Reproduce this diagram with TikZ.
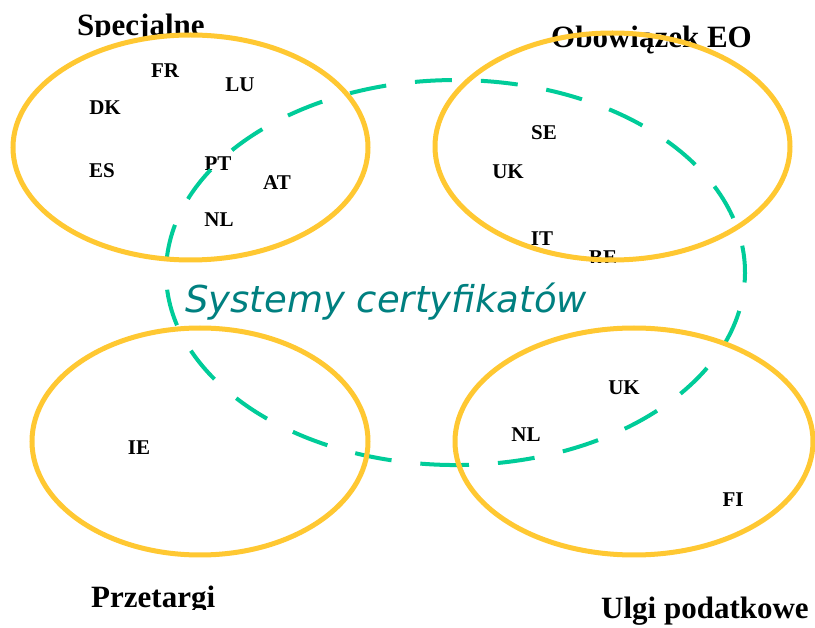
\documentclass[tikz,border=0pt]{standalone}
\usepackage{fontspec}
\setmainfont{Liberation Serif}
\newfontfamily\dejavu{DejaVu Sans}
\definecolor{ovalyellow}{RGB}{255,200,50}
\definecolor{dashgreen}{RGB}{0,204,153}
\definecolor{tealtext}{RGB}{0,128,128}
\begin{document}
\begin{tikzpicture}[x=1pt,y=-1pt,
  oval/.style={draw=ovalyellow,line width=5pt},
  certoval/.style={draw=dashgreen,line width=4pt,dash pattern=on 37pt off 29pt},
  country/.style={inner sep=0pt,font=\fontsize{21}{21}\selectfont\bfseries},
  title/.style={inner sep=0pt,anchor=base west,font=\fontsize{31}{31}\selectfont\bfseries}]
\useasboundingbox (0,0) rectangle (815,628);
\fill[white] (0,0) rectangle (815,628);
% titles
\begin{scope}
  \clip (0,0) rectangle (815,37);
  \node[title] (tspec) at (77,36) {Specjalne};
\end{scope}
\node[title] (tobow) at (551,48) {Obowiązek EO};
\begin{scope}
  \clip (0,560) rectangle (400,609);
  \node[title] (tprze) at (91,608) {Przetargi};
\end{scope}
\node[title] (tulgi) at (601,618) {Ulgi podatkowe};
% countries
\node[country] (fr) at (165,71) {FR};
\node[country] (lu) at (240,85) {LU};
\node[country] (dk) at (105,108) {DK};
\node[country] (es) at (102,171) {ES};
\node[country] (pt) at (218,164) {PT};
\node[country] (at) at (277,183) {AT};
\node[country] (nl1) at (219,220) {NL};
\node[country] (se) at (544,133) {SE};
\node[country] (uk1) at (508,172) {UK};
\node[country] (it) at (542,239) {IT};
\begin{scope}
  \clip (560,240) rectangle (660,263);
  \node[country] (be) at (603,258) {BE};
\end{scope}
\node[country] (ie) at (139,448) {IE};
\node[country] (uk2) at (624,388) {UK};
\node[country] (nl2) at (526,435) {NL};
\node[country] (fi) at (733,500) {FI};
% certificate system oval (starts at the bottom, runs to the right)
\coordinate (certstart) at (432.0,464.4);
\draw[certoval] (certstart) arc[start angle=94.66, end angle=-265.34, x radius=289.5, y radius=192.5];
% category ovals
\draw[oval] (190.5,147.5) ellipse [x radius=177.5, y radius=112.5];
\draw[oval] (612.5,146.5) ellipse [x radius=177.5, y radius=113.5];
\draw[oval] (200,441.5) ellipse [x radius=168, y radius=113.5];
\draw[oval] (634,441.5) ellipse [x radius=179, y radius=113.5];
% label
\node[inner sep=0pt,anchor=base west,text=tealtext,font=\dejavu\itshape\fontsize{37}{37}\selectfont] (cert) at (185,313) {Systemy certyfikatów};
\end{tikzpicture}
\end{document}
